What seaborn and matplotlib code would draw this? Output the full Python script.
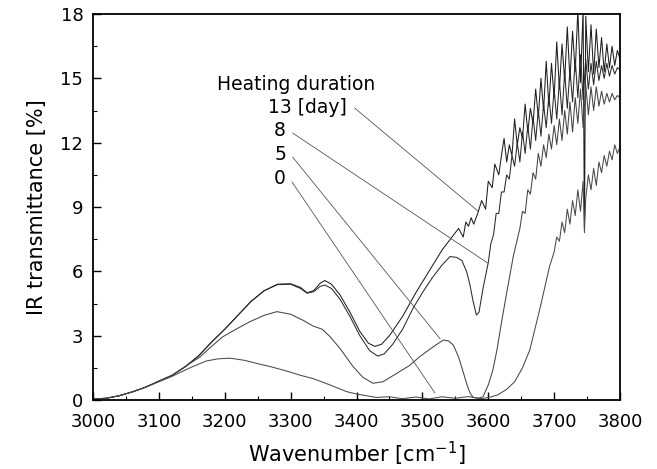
import numpy as np
import pandas as pd
import matplotlib
matplotlib.use("Agg")
import matplotlib.pyplot as plt
import seaborn as sns
from matplotlib.ticker import MultipleLocator

# ---------------- data ----------------
wn_13 = [3000, 3020, 3040, 3060, 3080, 3100, 3120, 3140, 3160, 3180, 3200, 3220, 3240, 3260, 3280,
         3300, 3315, 3325, 3335, 3345, 3352, 3362, 3375, 3390, 3405, 3418, 3428, 3438, 3450, 3470,
         3490, 3510, 3530, 3545, 3555, 3562, 3566, 3570, 3574, 3578, 3584, 3590, 3596, 3600, 3606,
         3610, 3616, 3620, 3624, 3628, 3632, 3636, 3640, 3644, 3648, 3652, 3656, 3660, 3664, 3668,
         3672, 3676, 3680, 3684, 3688, 3692, 3696, 3700, 3704, 3708, 3712, 3716, 3720, 3724, 3728,
         3732, 3736, 3740, 3744, 3746, 3748, 3752, 3756, 3760, 3764, 3768, 3772, 3776, 3780, 3784,
         3788, 3792, 3796, 3800]
tr_13 = [0.05, 0.08, 0.2, 0.38, 0.6, 0.88, 1.15, 1.55, 2.05, 2.7, 3.3, 3.95, 4.6, 5.1, 5.4,
         5.42, 5.25, 5.0, 5.1, 5.45, 5.57, 5.4, 4.9, 4.1, 3.2, 2.65, 2.5, 2.6, 3.0, 3.9,
         5.0, 6.0, 7.0, 7.6, 8.0, 7.6, 8.3, 8.1, 8.5, 8.2, 8.7, 9.3, 8.9, 10.2, 9.9,
         11.0, 10.5, 11.4, 12.2, 11.1, 11.9, 11.4, 13.1, 11.9, 12.7, 12.2, 13.8, 12.5, 13.6, 12.9,
         14.5, 13.2, 15.0, 13.5, 15.8, 13.7, 15.7, 14.1, 16.7, 14.5, 16.6, 14.9, 17.4, 14.9, 17.2,
         15.3, 18.2, 14.8, 18.2, 8.0, 17.9, 15.3, 17.5, 15.2, 17.3, 15.5, 16.9, 15.3, 16.6, 15.5,
         16.5, 15.6, 16.3, 15.9]

wn_8 = [3000, 3020, 3040, 3060, 3080, 3100, 3120, 3140, 3160, 3180, 3200, 3220, 3240, 3260, 3280,
        3300, 3315, 3325, 3335, 3345, 3352, 3362, 3375, 3390, 3405, 3420, 3432, 3442, 3455, 3470,
        3486, 3500, 3515, 3530, 3542, 3552, 3560, 3567, 3572, 3577, 3582, 3586, 3592, 3600, 3604,
        3608, 3612, 3616, 3620, 3624, 3628, 3632, 3636, 3640, 3644, 3648, 3652, 3656, 3660, 3664,
        3668, 3672, 3676, 3680, 3684, 3688, 3692, 3696, 3700, 3704, 3708, 3712, 3716, 3720, 3724,
        3728, 3732, 3736, 3740, 3744, 3748, 3752, 3756, 3760, 3764, 3768, 3772, 3776, 3780, 3784,
        3788, 3792, 3796, 3800]
tr_8 = [0.05, 0.08, 0.2, 0.38, 0.6, 0.88, 1.15, 1.55, 2.05, 2.7, 3.3, 3.95, 4.6, 5.1, 5.38,
        5.4, 5.2, 4.98, 5.05, 5.3, 5.36, 5.2, 4.7, 3.9, 3.0, 2.3, 2.05, 2.15, 2.6, 3.3,
        4.29, 5.0, 5.7, 6.3, 6.69, 6.65, 6.5, 6.0, 5.4, 4.6, 3.96, 4.1, 5.2, 6.4, 7.3,
        7.7, 8.7, 8.7, 9.7, 9.7, 10.5, 10.3, 11.4, 10.9, 12.0, 11.1, 12.5, 11.5, 12.8, 11.7,
        13.2, 12.1, 13.5, 12.3, 13.8, 12.7, 14.2, 12.9, 14.5, 13.1, 14.9, 13.3, 15.3, 13.6, 15.4,
        13.9, 15.9, 14.1, 16.1, 14.0, 15.9, 14.5, 15.7, 14.7, 15.8, 14.9, 15.6, 15.0, 15.7, 15.1,
        15.6, 15.2, 15.5, 15.4]

wn_5 = [3000, 3020, 3040, 3060, 3080, 3100, 3120, 3137, 3162, 3180, 3197, 3220, 3238, 3260, 3279,
        3300, 3320, 3334, 3348, 3360, 3375, 3395, 3410, 3425, 3440, 3461, 3480, 3496, 3515, 3532,
        3540, 3547, 3555, 3562, 3567, 3572, 3577, 3585, 3592, 3600, 3607, 3613, 3620, 3628, 3638,
        3648, 3652, 3656, 3660, 3664, 3668, 3672, 3676, 3680, 3684, 3688, 3692, 3696, 3700, 3704,
        3708, 3712, 3716, 3720, 3724, 3728, 3732, 3736, 3740, 3744, 3748, 3752, 3756, 3760, 3764,
        3768, 3772, 3776, 3780, 3784, 3788, 3792, 3796, 3800]
tr_5 = [0.05, 0.08, 0.2, 0.38, 0.6, 0.88, 1.15, 1.5, 2.0, 2.5, 2.95, 3.35, 3.65, 3.95, 4.12,
        4.0, 3.7, 3.45, 3.3, 2.95, 2.4, 1.55, 1.05, 0.78, 0.85, 1.24, 1.6, 2.02, 2.45, 2.8,
        2.75, 2.56, 2.0, 1.3, 0.78, 0.35, 0.12, 0.08, 0.15, 0.7, 1.4, 2.3, 3.6, 5.0, 6.7,
        8.0, 8.8, 8.7, 9.8, 9.6, 10.6, 10.3, 11.5, 10.9, 11.9, 11.3, 12.4, 11.7, 12.8, 11.9,
        13.1, 12.1, 13.5, 12.4, 13.9, 12.5, 14.1, 12.9, 14.5, 12.7, 14.7, 13.3, 14.6, 13.5, 14.6,
        13.7, 14.4, 13.8, 14.3, 13.9, 14.3, 14.0, 14.2, 14.1]

wn_0 = [3000, 3020, 3040, 3060, 3080, 3100, 3120, 3147, 3172, 3190, 3208, 3230, 3248, 3270, 3294,
        3315, 3334, 3360, 3385, 3400, 3415, 3430, 3450, 3470, 3490, 3510, 3530, 3550, 3570, 3590,
        3605, 3615, 3628, 3640, 3652, 3663, 3678, 3693, 3700, 3704, 3708, 3712, 3716, 3720, 3724,
        3728, 3732, 3736, 3740, 3744, 3746, 3748, 3752, 3756, 3760, 3764, 3768, 3772, 3776, 3780,
        3784, 3788, 3792, 3796, 3800]
tr_0 = [0.05, 0.08, 0.2, 0.38, 0.6, 0.85, 1.1, 1.5, 1.82, 1.92, 1.95, 1.85, 1.71, 1.55, 1.35,
        1.15, 1.0, 0.7, 0.39, 0.28, 0.2, 0.12, 0.15, 0.06, 0.14, 0.05, 0.15, 0.08, 0.16, 0.06,
        0.15, 0.25, 0.5, 0.85, 1.5, 2.33, 4.2, 6.22, 6.9, 7.6, 7.4, 8.3, 7.8, 8.9, 8.2,
        9.3, 8.6, 9.8, 8.8, 10.2, 7.8, 9.4, 10.5, 9.8, 10.8, 10.0, 11.1, 10.6, 11.4, 10.9,
        11.6, 11.2, 11.9, 11.5, 11.8]

durations = ["13", "8", "5", "0"]
label_texts = ["13 [day]", "8", "5", "0"]
# leader lines: text anchor (data coords) -> point on curve
label_pos = [(3266, 13.62), (3284, 12.55), (3284, 11.47), (3284, 10.35)]
leader_start = [(3397, 13.62), (3303, 12.45), (3303, 11.33), (3302, 10.17)]
leader_end = [(3584, 8.82), (3599, 6.39), (3527, 2.85), (3519, 0.33)]

frames = []
for d, w, t in zip(durations, [wn_13, wn_8, wn_5, wn_0], [tr_13, tr_8, tr_5, tr_0]):
    frames.append(pd.DataFrame({"wn": w, "T": t, "dur": d}))
df = pd.concat(frames, ignore_index=True)

# ---------------- plotting ----------------
sns.set_theme(style="white")
plt.rcParams["font.family"] = ["DejaVu Sans"]

fig = plt.figure(figsize=(6.57, 4.69), dpi=100)
ax = fig.add_axes([93 / 657, 69 / 469, 527 / 657, 386 / 469])

palette = {"13": "#1e1e1e", "8": "#2a2a2a", "5": "#444444", "0": "#4a4a4a"}
sns.lineplot(data=df, x="wn", y="T", hue="dur", palette=palette, estimator=None,
             sort=False, legend=False, linewidth=0.75, ax=ax)

ax.set_xlim(3000, 3800)
ax.set_ylim(0, 18)
ax.xaxis.set_major_locator(MultipleLocator(100))
ax.xaxis.set_minor_locator(MultipleLocator(50))
ax.yaxis.set_major_locator(MultipleLocator(3))
ax.yaxis.set_minor_locator(MultipleLocator(1.5))
ax.tick_params(axis="both", which="both", direction="in", colors="black",
               labelsize=13, top=False, right=False, bottom=True, left=True)
ax.tick_params(axis="x", which="major", length=6, width=1.0, pad=9)
ax.tick_params(axis="y", which="major", length=6, width=1.0, pad=7)
ax.tick_params(axis="both", which="minor", length=3, width=0.8)
for s in ax.spines.values():
    s.set_color("black")
    s.set_linewidth(1.3)

ax.set_xlabel("Wavenumber [cm$^{-1}$]", fontsize=15, labelpad=7, color="black")
ax.set_ylabel("IR transmittance [%]", fontsize=15, labelpad=10, color="black")

ax.text(3188, 14.69, "Heating duration", fontsize=13.5, ha="left", va="center", color="black")
for txt, (tx, ty), (sx, sy), (ex, ey) in zip(label_texts, label_pos, leader_start, leader_end):
    ha = "left" if "day" in txt else "center"
    ax.text(tx, ty, txt, fontsize=13.5, ha=ha, va="center", color="black")
    ax.annotate("", xy=(ex, ey), xytext=(sx, sy),
                arrowprops=dict(arrowstyle="-", color="#555555", lw=0.6,
                                shrinkA=0, shrinkB=0))

fig.savefig("out.png", dpi=100)
